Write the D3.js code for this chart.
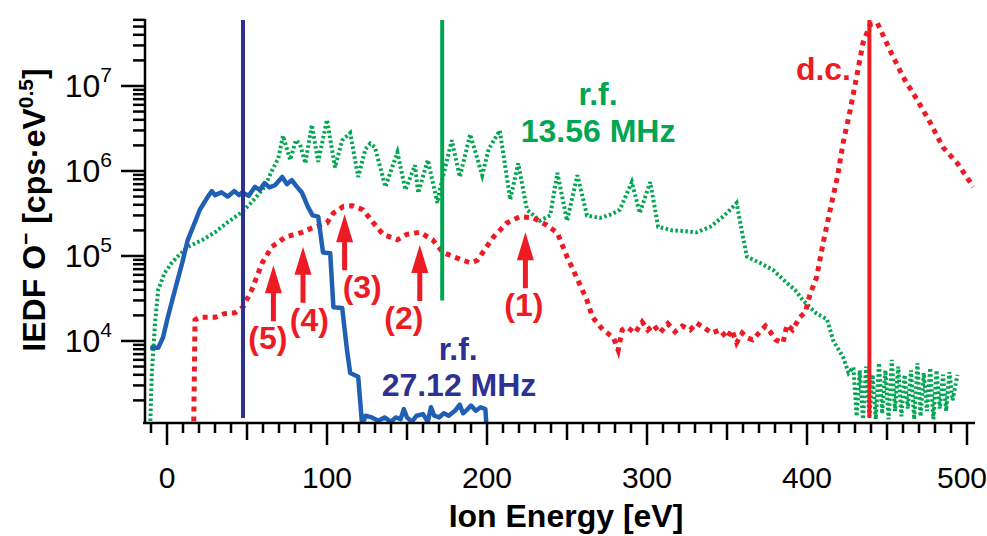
<!DOCTYPE html>
<html>
<head>
<meta charset="utf-8">
<script src="https://cdn.jsdelivr.net/npm/d3@7"></script>
<style>
body { margin: 0; background: #fff; }
text { font-family: "Liberation Sans", Arial, Helvetica, sans-serif; }
</style>
</head>
<body>
<div id="chart"></div>
<script>
// IEDF of O- ions, [energy eV, cps*eV^0.5]
const dcSeries = [
    [16.5, 5e2], [17.5, 1.77e4], [20.5, 1.9e4], [30, 1.9e4], [36, 2.1e4], [42.5, 2.15e4], [47.5, 2.5e4],
    [53, 4.0e4], [59.5, 8.3e4], [65.5, 1.28e5], [74, 1.67e5], [84.5, 1.9e5], [91, 2.15e5], [100, 2.45e5],
    [104, 3.2e5], [110, 3.8e5], [116, 3.9e5], [122.5, 3.5e5], [129, 2.45e5], [135, 1.8e5], [144, 1.55e5],
    [150, 1.8e5], [158, 1.9e5], [166, 1.55e5], [172.5, 1.1e5], [181, 9.5e4], [189.5, 8.3e4], [194, 8.9e4],
    [204, 1.67e5], [212.5, 2.45e5], [220.5, 2.9e5], [229, 2.8e5], [237.5, 2.3e5], [244, 1.86e5], [250, 9.8e4],
    [256, 5.6e4], [262.5, 3.0e4], [266, 1.9e4], [272.5, 1.35e4], [279, 1.1e4], [282, 7.8e3], [284.5, 1.35e4],
    [287.5, 1.45e4], [292.5, 1.24e4], [297, 1.67e4], [300.5, 1.35e4], [304, 1.55e4], [308, 1.24e4], [313, 1.6e4],
    [317.5, 1.28e4], [322, 1.5e4], [327, 1.35e4], [331, 1.63e4], [336, 1.42e4], [340.5, 1.24e4], [345.5, 1.35e4],
    [350, 1.08e4], [353, 1.35e4], [356, 9.5e3], [359.5, 1.24e4], [363, 1.08e4], [366, 1.03e4], [370.5, 1.28e4],
    [374, 1.5e4], [377, 1.28e4], [380.5, 1.03e4], [385, 9.5e3], [387.5, 1.55e4], [391, 1.35e4], [395.5, 1.9e4],
    [399, 2.2e4], [402, 3.6e4], [406, 5.6e4], [410, 1.4e5], [414.5, 3.5e5], [419, 8.5e5], [422.5, 2.1e6],
    [427, 5.2e6], [431, 1.28e7], [435, 3.2e7], [439.5, 5.3e7], [444, 5.5e7], [452, 2.6e7], [460, 1.28e7],
    [469, 6.8e6], [477, 3.7e6], [485, 1.9e6], [494, 1.23e6], [504, 6.5e5]
];

const rf13Series = [
    [-10.5, 1.0e3], [-9.5, 4.2e3], [-7.5, 1.6e4], [-5.5, 4.0e4], [-1.5, 6.3e4], [3, 8.3e4], [7, 1.0e5],
    [13, 1.28e5], [22, 1.54e5], [30, 1.9e5], [38, 2.5e5], [47, 3.3e5], [53, 4.3e5], [61, 6.5e5], [65.5, 1.0e6],
    [69.5, 1.4e6], [72.5, 2.6e6], [77, 1.35e6], [80.5, 2.3e6], [83, 2.1e6], [86.5, 1.23e6], [90.5, 3.5e6],
    [94.5, 1.28e6], [100, 4.0e6], [105, 1.1e6], [109.5, 2.3e6], [114.5, 2.8e6], [119.5, 8.5e5], [124, 1.8e6],
    [127, 2.1e6], [130, 1.9e6], [136.5, 6.5e5], [144, 1.66e6], [149, 6.0e5], [155, 1.17e6], [157, 5.5e5],
    [163, 1.35e6], [169, 4.2e5], [170.5, 6.0e5], [178, 2.3e6], [183, 8.5e5], [189.5, 2.7e6], [197, 8.9e5],
    [201, 1.8e6], [208, 3.0e6], [214.5, 4.6e5], [219.5, 1.23e6], [225, 3.5e5], [233, 2.6e5], [239.5, 3.0e5],
    [244, 9.5e5], [250, 2.6e5], [256.5, 8.9e5], [262.5, 3.0e5], [270.5, 2.8e5], [278, 3.1e5], [283, 3.5e5],
    [290.5, 7.4e5], [295.5, 3.2e5], [302, 7.4e5], [307, 2.2e5], [316, 2.0e5], [324, 1.96e5], [331, 1.9e5],
    [339.5, 2.2e5], [347.5, 2.9e5], [352, 3.5e5], [356, 4.2e5], [359.5, 1.86e5], [362.5, 9.8e4], [370.5, 8.3e4],
    [379, 6.8e4], [387.5, 4.8e4], [392.5, 4.0e4], [397.5, 3.0e4], [406, 2.1e4], [412.5, 1.8e4], [416.5, 1.0e4],
    [422.5, 6.5e3], [426, 4.2e3], [429, 4.9e3], [431, 1.3e3], [433, 4.5e3], [435, 1.2e3], [437, 5.0e3],
    [439, 1.3e3], [441, 4.0e3], [443, 1.2e3], [445, 5.5e3], [447, 1.4e3], [449, 4.5e3], [451, 1.2e3],
    [453, 6.0e3], [455, 1.5e3], [457, 5.0e3], [459, 1.3e3], [461, 4.0e3], [463, 1.6e3], [465, 4.5e3],
    [467, 1.2e3], [469, 5.5e3], [471, 1.3e3], [473, 4.2e3], [475, 1.5e3], [477, 4.8e3], [479, 1.2e3],
    [481, 4.5e3], [483, 1.6e3], [485, 4.0e3], [487, 1.5e3], [489, 4.3e3], [491, 2.0e3], [494, 4.0e3]
];

const rf27Series = [
    [-10.5, 8.3e3], [-5.5, 8.3e3], [-2.5, 1.1e4], [0.5, 1.9e4], [5, 4.0e4], [9.5, 8.3e4], [13, 1.55e5],
    [17.5, 2.5e5], [20.5, 3.5e5], [25, 4.8e5], [28, 5.8e5], [30, 5.2e5], [34, 5.6e5], [38, 5.0e5], [42, 5.8e5],
    [45, 5.2e5], [47, 5.6e5], [51, 5.1e5], [55, 6.5e5], [58, 6.0e5], [61, 7.2e5], [64, 6.4e5], [67.5, 6.8e5],
    [72, 8.5e5], [75, 7.0e5], [78, 7.8e5], [81, 6.6e5], [84.5, 5.5e5], [88, 3.8e5], [91, 3.0e5], [94.5, 2.9e5],
    [97.5, 1.1e5], [102, 1.08e5], [104, 2.5e4], [109.5, 2.45e4], [112.5, 7.8e3], [114.5, 4.2e3], [119.5, 3.8e3],
    [122, 1.0e3], [124, 1320], [128, 1260], [132, 1150], [136, 1260], [140, 1120], [143, 1260], [146, 1200],
    [148, 1580], [150, 1260], [153, 1120], [156, 1320], [160, 1380], [163, 1120], [165, 1660], [167, 1320],
    [170, 1260], [173, 1410], [176, 1320], [180, 1510], [183, 1780], [185, 1410], [188, 1580], [190, 1740],
    [193, 1510], [196, 1660], [199, 1580], [200, 790]
];

// vertical reference lines: [energy, lowest value]
const markerLines = [[47.5, 1.1e3], [172, 3.0e4], [439, 1.1e3]];
const markerColors = ["#2e3192", "#00a651", "#ed1c24"];

const peakNames = ["(1)", "(2)", "(3)", "(4)", "(5)"];
const peakEnergy = [224, 158, 111, 85, 66.5];
const peakTip = [1.9e5, 1.35e5, 3.1e5, 1.28e5, 7.8e4];
const peakLabelEnergy = [223, 148, 122, 89, 63];

const xTickLabels = [0, 100, 200, 300, 400, 500];
const yDecades = [4, 5, 6, 7];

const svg = d3.select("#chart")
    .append("svg")
    .attr("width", 987)
    .attr("height", 536);

const x = d3.scaleLinear().domain([-15, 505]).range([143, 975]);
const y = d3.scaleLog().domain([Math.pow(10, 3.035), Math.pow(10, 7.788)]).range([423, 19]);

const plotLeft = 145, plotBottom = 423, plotTop = 19, plotRight = 975;

svg.append("clipPath").attr("id", "plot")
    .append("rect")
    .attr("x", plotLeft).attr("y", plotTop)
    .attr("width", plotRight - plotLeft).attr("height", plotBottom - plotTop);

const line = d3.line().x(d => x(d[0])).y(d => y(d[1]));
const plot = svg.append("g").attr("clip-path", "url(#plot)");

plot.append("path").datum(rf13Series)
    .attr("d", line)
    .attr("fill", "none")
    .attr("stroke", "#00a651")
    .attr("stroke-width", 4)
    .attr("stroke-dasharray", "2.5,2.5");

plot.append("path").datum(dcSeries)
    .attr("d", line)
    .attr("fill", "none")
    .attr("stroke", "#ed1c24")
    .attr("stroke-width", 5)
    .attr("stroke-dasharray", "5,5");

plot.append("path").datum(rf27Series)
    .attr("d", line)
    .attr("fill", "none")
    .attr("stroke", "#1f5fb4")
    .attr("stroke-width", 4.5)
    .attr("stroke-linejoin", "round");

plot.selectAll("line.marker").data(markerLines).enter()
    .append("line")
    .attr("class", "marker")
    .attr("x1", d => x(d[0])).attr("x2", d => x(d[0]))
    .attr("y1", plotTop + 1)
    .attr("y2", d => Math.min(y(d[1]), plotBottom - 5))
    .attr("stroke", (d, i) => markerColors[i])
    .attr("stroke-width", 4);

// peak arrows (1)-(5)
const arrows = svg.append("g").attr("fill", "#ed1c24");
peakNames.forEach((name, i) => {
    const ax = x(peakEnergy[i]), ay = y(peakTip[i]);
    const p = `M${ax},${ay} L${ax + 8.5},${ay + 28} L${ax + 2.5},${ay + 28} L${ax + 2.5},${ay + 56} ` +
        `L${ax - 2.5},${ay + 56} L${ax - 2.5},${ay + 28} L${ax - 8.5},${ay + 28} Z`;
    arrows.append("path").attr("d", p);
    arrows.append("text")
        .attr("x", x(peakLabelEnergy[i]))
        .attr("y", ay + 84)
        .attr("text-anchor", "middle")
        .attr("font-weight", "bold")
        .style("font-size", "32px")
        .text(name);
});

// annotations
function label(txt, e, v, color, anchor) {
    svg.append("text")
        .attr("x", x(e)).attr("y", y(v))
        .attr("text-anchor", anchor || "middle")
        .attr("fill", color)
        .attr("font-weight", "bold")
        .style("font-size", "32px")
        .text(txt);
}
label("d.c.", 427.5, 1.18e7, "#ed1c24", "end");
label("r.f.", 269.4, 6.0e6, "#00a651");
label("13.56 MHz", 269.4, 2.2e6, "#00a651");
label("r.f.", 182, 6.0e3, "#2e3192");
label("27.12 MHz", 182.5, 2.25e3, "#2e3192");

// axes
const axes = svg.append("g").attr("stroke", "#000").attr("stroke-width", 2.5);
axes.append("line").attr("x1", plotLeft).attr("x2", plotLeft).attr("y1", plotTop).attr("y2", plotBottom + 1);
axes.append("line").attr("x1", 143).attr("x2", plotRight).attr("y1", plotBottom).attr("y2", plotBottom);

d3.range(-10, 501, 10).forEach(v => {
    const len = v % 100 === 0 ? 22 : (v % 50 === 0 ? 17 : 10);
    axes.append("line")
        .attr("x1", x(v)).attr("x2", x(v))
        .attr("y1", plotBottom).attr("y2", plotBottom + len);
});

y.ticks().forEach(v => {
    const lg = Math.log10(v);
    const major = Math.abs(lg - Math.round(lg)) < 1e-6;
    axes.append("line")
        .attr("x1", plotLeft).attr("x2", plotLeft - (major ? 24 : 12))
        .attr("y1", y(v)).attr("y2", y(v));
});

svg.selectAll("text.xtick").data(xTickLabels).enter()
    .append("text")
    .attr("class", "xtick")
    .attr("x", d => Math.min(x(d), 962))
    .attr("y", 488)
    .attr("text-anchor", "middle")
    .style("font-size", "30px")
    .text(d => d);

yDecades.forEach(p => {
    const t = svg.append("text")
        .attr("x", 112)
        .attr("y", y(Math.pow(10, p)) + 11)
        .attr("text-anchor", "end")
        .style("font-size", "32px");
    t.append("tspan").text("10");
    t.append("tspan").attr("dy", -15).style("font-size", "21px").text(p);
});

svg.append("text")
    .attr("x", 566).attr("y", 527)
    .attr("text-anchor", "middle")
    .attr("font-weight", "bold")
    .style("font-size", "32px")
    .text("Ion Energy [eV]");

const yt = svg.append("text")
    .attr("transform", "translate(45,210) rotate(-90)")
    .attr("text-anchor", "middle")
    .attr("font-weight", "bold")
    .style("font-size", "32px");
yt.append("tspan").text("IEDF O");
yt.append("tspan").attr("dy", -12).style("font-size", "21px").text("\u2212");
yt.append("tspan").attr("dy", 12).text(" [cps\u00b7eV");
yt.append("tspan").attr("dy", -12).style("font-size", "21px").text("0.5");
yt.append("tspan").attr("dy", 12).text("]");
</script>
</body>
</html>
